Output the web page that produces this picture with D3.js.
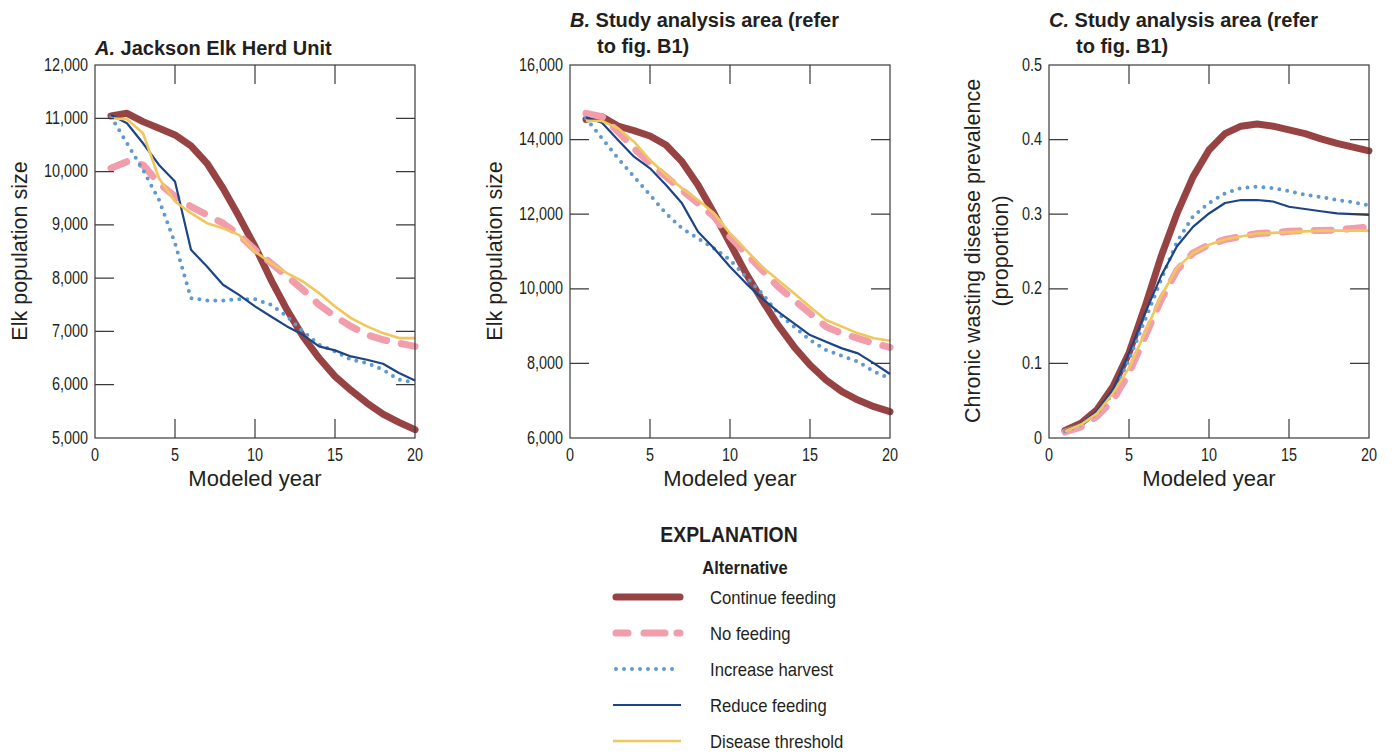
<!DOCTYPE html>
<html>
<head>
<meta charset="utf-8">
<script src="https://cdn.jsdelivr.net/npm/d3@7"></script>
<style>
  body { margin: 0; background: #fff; }
  svg text { font-family: 'Liberation Sans', Arial, sans-serif; fill: #231f20; }
</style>
</head>
<body>
<script>
// data
var years = d3.range( 1, 21 );

var seriesNames = ['Continue feeding', 'No feeding', 'Increase harvest', 'Reduce feeding', 'Disease threshold'];

// A. Jackson Elk Herd Unit
var aContinue = [11044, 11094, 10937, 10812, 10687, 10481, 10156, 9687, 9156, 8594, 7969, 7406, 6906, 6500, 6156, 5894, 5656, 5450, 5294, 5156];
var aNoFeeding = [10062, 10187, 10125, 9781, 9531, 9344, 9187, 9031, 8812, 8531, 8281, 8031, 7781, 7500, 7281, 7094, 6937, 6844, 6781, 6719];
var aHarvest = [11031, 10531, 10031, 9469, 8656, 7625, 7581, 7581, 7606, 7606, 7500, 7281, 7000, 6750, 6625, 6469, 6406, 6281, 6094, 6044];
var aReduce = [11062, 10906, 10531, 10125, 9812, 8531, 8219, 7875, 7687, 7469, 7281, 7094, 6937, 6719, 6644, 6531, 6469, 6394, 6219, 6081];
var aThreshold = [11000, 10981, 10719, 9875, 9437, 9219, 9031, 8937, 8812, 8500, 8281, 8094, 7937, 7719, 7469, 7250, 7094, 6969, 6875, 6875];

// B. Study analysis area, population
var bContinue = [14543, 14615, 14365, 14239, 14096, 13855, 13408, 12783, 12023, 11219, 10414, 9699, 9029, 8448, 7957, 7555, 7242, 7018, 6840, 6706];
var bNoFeeding = [14704, 14615, 14213, 13766, 13364, 13006, 12649, 12291, 11934, 11397, 10951, 10504, 10057, 9699, 9342, 8985, 8806, 8672, 8538, 8430];
var bHarvest = [14570, 14034, 13498, 13006, 12515, 12023, 11621, 11353, 11085, 10772, 10325, 9878, 9342, 8985, 8627, 8359, 8198, 8046, 7778, 7600];
var bReduce = [14597, 14454, 13989, 13542, 13230, 12783, 12291, 11531, 11085, 10593, 10146, 9744, 9387, 9074, 8761, 8582, 8403, 8269, 8001, 7715];
var bThreshold = [14507, 14498, 14302, 13944, 13453, 13051, 12693, 12380, 12023, 11487, 11040, 10593, 10236, 9878, 9521, 9163, 8985, 8806, 8672, 8609];

// C. Study analysis area, CWD prevalence
var cContinue = [0.010, 0.020, 0.038, 0.069, 0.114, 0.176, 0.243, 0.301, 0.350, 0.386, 0.408, 0.418, 0.421, 0.418, 0.413, 0.408, 0.401, 0.395, 0.390, 0.385];
var cNoFeeding = [0.008, 0.015, 0.029, 0.051, 0.087, 0.136, 0.185, 0.225, 0.248, 0.259, 0.266, 0.270, 0.274, 0.275, 0.277, 0.278, 0.278, 0.279, 0.281, 0.283];
var cHarvest = [0.009, 0.018, 0.033, 0.060, 0.105, 0.158, 0.212, 0.263, 0.297, 0.315, 0.328, 0.335, 0.337, 0.335, 0.331, 0.326, 0.323, 0.319, 0.316, 0.312];
var cReduce = [0.010, 0.019, 0.036, 0.065, 0.114, 0.167, 0.217, 0.257, 0.283, 0.301, 0.315, 0.319, 0.319, 0.317, 0.310, 0.307, 0.304, 0.301, 0.300, 0.299];
var cThreshold = [0.009, 0.018, 0.033, 0.060, 0.094, 0.141, 0.190, 0.228, 0.248, 0.259, 0.266, 0.270, 0.274, 0.275, 0.276, 0.277, 0.278, 0.278, 0.278, 0.278];

var xTicks = [0, 5, 10, 15, 20];
var aTicks = [5000, 6000, 7000, 8000, 9000, 10000, 11000, 12000];
var bTicks = [6000, 8000, 10000, 12000, 14000, 16000];
var cTicks = [0, 0.1, 0.2, 0.3, 0.4, 0.5];

// ----------------------------------------------------------------------------
// line styles, drawing order bottom to top
var styles = {
  'Continue feeding': { color: '#984343', width: 7, dash: null, cap: 'round' },
  'No feeding': { color: '#f19dab', width: 7, dash: '17 15', cap: 'round' },
  'Increase harvest': { color: '#6098d0', width: 4, dash: '0 8', cap: 'round' },
  'Reduce feeding': { color: '#1d4586', width: 2.2, dash: null, cap: 'butt' },
  'Disease threshold': { color: '#f1c75c', width: 2.6, dash: null, cap: 'butt' }
};

var svg = d3.select( 'body' ).append( 'svg' )
  .attr( 'width', 1392 )
  .attr( 'height', 754 );

var plotTop = 65, plotBottom = 438, plotW = 320;

// squeeze text horizontally to mimic the condensed face of the original
function condense( sel, k ) {
  sel.each( function () {
    var len = this.getComputedTextLength();
    d3.select( this )
      .attr( 'textLength', len * k )
      .attr( 'lengthAdjust', 'spacingAndGlyphs' );
  });
}

function drawPanel( left, yDomain, yTickVals, yFormat, series, titleLines ) {
  var x = d3.scaleLinear().domain( [0, 20] ).range( [left, left + plotW] );
  var y = d3.scaleLinear().domain( yDomain ).range( [plotBottom, plotTop] );
  var g = svg.append( 'g' );

  // lines
  var line = d3.line()
    .x( function ( d, i ) { return x( years[i] ); } )
    .y( function ( d ) { return y( d ); } );

  seriesNames.forEach( function ( name, k ) {
    var s = styles[name];
    g.append( 'path' )
      .attr( 'd', line( series[k] ) )
      .attr( 'fill', 'none' )
      .attr( 'stroke', s.color )
      .attr( 'stroke-width', s.width )
      .attr( 'stroke-dasharray', s.dash )
      .attr( 'stroke-linecap', s.cap )
      .attr( 'stroke-linejoin', 'round' );
  });

  // frame and inward ticks
  var axisColor = '#3a3a3a';
  g.append( 'rect' )
    .attr( 'x', left ).attr( 'y', plotTop )
    .attr( 'width', plotW ).attr( 'height', plotBottom - plotTop )
    .attr( 'fill', 'none' ).attr( 'stroke', axisColor ).attr( 'stroke-width', 1.2 );

  var inner = [5, 10, 15];
  g.selectAll( '.xt' ).data( inner ).enter().append( 'path' )
    .attr( 'd', function ( d ) { return 'M' + x( d ) + ',' + plotBottom + 'v-19M' + x( d ) + ',' + plotTop + 'v19'; } )
    .attr( 'stroke', axisColor ).attr( 'stroke-width', 1.2 );

  g.selectAll( '.yt' ).data( yTickVals.slice( 1, -1 ) ).enter().append( 'path' )
    .attr( 'd', function ( d ) { return 'M' + left + ',' + y( d ) + 'h19M' + ( left + plotW ) + ',' + y( d ) + 'h-19'; } )
    .attr( 'stroke', axisColor ).attr( 'stroke-width', 1.2 );

  // tick labels
  var xl = g.selectAll( '.xl' ).data( xTicks ).enter().append( 'text' )
    .attr( 'x', function ( d ) { return x( d ); } )
    .attr( 'y', plotBottom + 22.5 )
    .attr( 'text-anchor', 'middle' )
    .style( 'font-size', '18px' )
    .text( function ( d ) { return d; } );
  condense( xl, 0.8 );

  var yl = g.selectAll( '.yl' ).data( yTickVals ).enter().append( 'text' )
    .attr( 'x', left - 7 )
    .attr( 'y', function ( d ) { return y( d ) + 5.5; } )
    .attr( 'text-anchor', 'end' )
    .style( 'font-size', '18px' )
    .text( yFormat );
  condense( yl, 0.8 );

  g.append( 'text' )
    .attr( 'x', left + plotW / 2 )
    .attr( 'y', 486 )
    .attr( 'text-anchor', 'middle' )
    .style( 'font-size', '22px' )
    .text( 'Modeled year' );

  // title
  titleLines.forEach( function ( t, i ) {
    var tx = g.append( 'text' )
      .attr( 'x', left + ( i > 0 ? 27 : 0 ) )
      .attr( 'y', titleLines.length > 1 ? 27 + i * 26 : 55 )
      .style( 'font-size', '20px' )
      .style( 'font-weight', 'bold' );
    if ( i === 0 ) {
      tx.append( 'tspan' ).style( 'font-style', 'italic' ).text( t[0] );
      tx.append( 'tspan' ).text( t[1] );
    } else {
      tx.text( t );
    }
  });

  return g;
}

var commaFmt = d3.format( ',' );

drawPanel( 95, [5000, 12000], aTicks, commaFmt,
  [aContinue, aNoFeeding, aHarvest, aReduce, aThreshold],
  [['A.', ' Jackson Elk Herd Unit']] );

drawPanel( 570, [6000, 16000], bTicks, commaFmt,
  [bContinue, bNoFeeding, bHarvest, bReduce, bThreshold],
  [['B.', ' Study analysis area (refer'], 'to fig. B1)'] );

drawPanel( 1049, [0, 0.5], cTicks, function ( d ) { return d; },
  [cContinue, cNoFeeding, cHarvest, cReduce, cThreshold],
  [['C.', ' Study analysis area (refer'], 'to fig. B1)'] );

// y axis titles
var yTitles = [
  { x: 27, text: 'Elk population size' },
  { x: 502, text: 'Elk population size' },
  { x: 980, text: 'Chronic wasting disease prevalence' },
  { x: 1008, text: '(proportion)' }
];

svg.selectAll( '.ytitle' )
  .data( yTitles )
  .enter()
  .append( 'text' )
  .attr( 'transform', function ( d ) { return 'translate(' + d.x + ',251) rotate(-90)'; } )
  .attr( 'text-anchor', 'middle' )
  .style( 'font-size', '21.5px' )
  .text( function ( d ) { return d.text; } );

// ----------------------------------------------------------------------------
// legend
var expl = svg.append( 'text' )
  .attr( 'x', 729 ).attr( 'y', 542 )
  .attr( 'text-anchor', 'middle' )
  .style( 'font-size', '22px' ).style( 'font-weight', 'bold' )
  .text( 'EXPLANATION' );
condense( expl, 0.88 );

var alt = svg.append( 'text' )
  .attr( 'x', 745 ).attr( 'y', 574 )
  .attr( 'text-anchor', 'middle' )
  .style( 'font-size', '18px' ).style( 'font-weight', 'bold' )
  .text( 'Alternative' );
condense( alt, 0.92 );

var legendY = d3.scalePoint().domain( seriesNames ).range( [597, 741] );

var items = svg.selectAll( '.leg' )
  .data( seriesNames )
  .enter()
  .append( 'g' );

items.append( 'line' )
  .attr( 'x1', function ( d ) { return styles[d].cap === 'round' ? 616 : 613; } )
  .attr( 'x2', function ( d ) { return styles[d].cap === 'round' ? 680 : 681; } )
  .attr( 'y1', function ( d ) { return legendY( d ); } )
  .attr( 'y2', function ( d ) { return legendY( d ); } )
  .attr( 'stroke', function ( d ) { return styles[d].color; } )
  .attr( 'stroke-width', function ( d ) { return styles[d].width; } )
  .attr( 'stroke-dasharray', function ( d ) { return d === 'No feeding' ? '12 16 21 12' : styles[d].dash; } )
  .attr( 'stroke-linecap', function ( d ) { return styles[d].cap; } );

var lt = items.append( 'text' )
  .attr( 'x', 710 )
  .attr( 'y', function ( d ) { return legendY( d ) + 7; } )
  .style( 'font-size', '18.5px' )
  .text( function ( d ) { return d; } );
condense( lt, 0.9 );
</script>
</body>
</html>
